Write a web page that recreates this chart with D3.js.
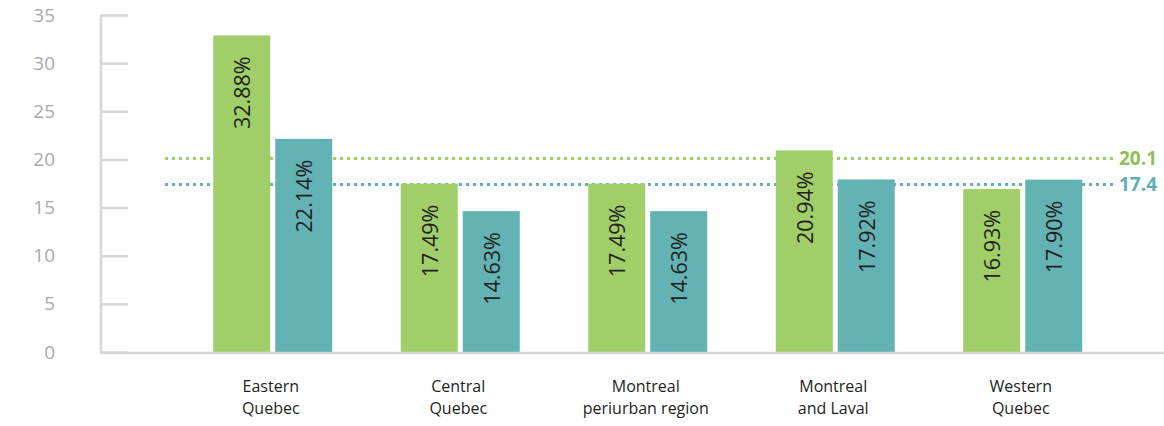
<!DOCTYPE html>
<html>
<head>
<meta charset="utf-8">
<script src="https://cdn.jsdelivr.net/npm/d3@7"></script>
<style>
  body { margin: 0; background: #fff; }
  svg { display: block; font-family: "Open Sans", "Noto Sans", sans-serif; }
</style>
</head>
<body>
<div id="chart-area"></div>
<script>
// regions on the x axis (two lines each)
const regions = [
  ["Eastern", "Quebec"],
  ["Central", "Quebec"],
  ["Montreal", "periurban region"],
  ["Montreal", "and Laval"],
  ["Western", "Quebec"]
]
const greenValues = [32.88, 17.49, 17.49, 20.94, 16.93]
const tealValues = [22.14, 14.63, 14.63, 17.92, 17.90]
const averages = [20.1, 17.4]
const yTicks = [0, 5, 10, 15, 20, 25, 30, 35]

const colors = ["#a0cf6a", "#63b3b5"]
const avgColors = ["#8dc05a", "#5eb0b1"]

const width = 1164, height = 426

let svg = d3.select("#chart-area").append("svg")
  .attr("width", width)
  .attr("height", height)

let y = d3.scaleLinear().domain([0, 35]).range([352, 15])

let x0 = d3.scaleBand()
  .domain(d3.range(regions.length))
  .range([179, 1116.5])

let x1 = d3.scaleBand()
  .domain([0, 1])
  .range([x0.bandwidth() / 2 - 59.5, x0.bandwidth() / 2 + 59.5])
  .paddingInner(0.08)

// y axis
let yAxis = d3.axisLeft(y)
  .tickValues(yTicks)
  .tickSize(-27)
  .tickPadding(46)
svg.append("g")
  .attr("transform", "translate(101,0)")
  .call(yAxis)
  .call(g => {
    g.select(".domain").remove()
    g.selectAll(".tick line").attr("stroke", "#d6d6d6").attr("stroke-width", 2.5)
    g.selectAll(".tick text")
      .attr("fill", "#a9a9ab")
      .attr("font-size", 19)
      .attr("font-family", "Open Sans, Noto Sans, sans-serif")
  })

svg.append("line")
  .attr("x1", 101).attr("x2", 101)
  .attr("y1", y(35)).attr("y2", y(0) + 1)
  .attr("stroke", "#d6d6d6").attr("stroke-width", 2.5)

// average dotted lines (behind bars)
averages.forEach((v, i) => {
  svg.append("line")
    .attr("x1", 165).attr("x2", 1115)
    .attr("y1", y(v)).attr("y2", y(v))
    .attr("stroke", colors[i])
    .attr("stroke-width", 3)
    .attr("stroke-dasharray", "3,4")
  svg.append("text")
    .attr("x", 1119)
    .attr("y", y(v))
    .attr("dy", "0.35em")
    .attr("fill", avgColors[i])
    .attr("font-size", 19)
    .attr("font-weight", "bold")
    .text(v)
})

// bars
let groups = svg.selectAll("g.region")
  .data(regions.map((r, i) => [greenValues[i], tealValues[i]]))
  .enter()
  .append("g")
    .attr("class", "region")
    .attr("transform", (d, i) => `translate(${x0(i)},0)`)

groups.selectAll("rect")
  .data(d => d)
  .enter()
  .append("rect")
    .attr("x", (d, i) => x1(i))
    .attr("width", x1.bandwidth())
    .attr("y", d => y(d))
    .attr("height", d => y(0) - y(d))
    .attr("fill", (d, i) => colors[i])

groups.selectAll("text.val")
  .data(d => d)
  .enter()
  .append("text")
    .attr("class", "val")
    .attr("transform", (d, i) => `translate(${x1(i) + x1.bandwidth() / 2 + 1},${y(d) + 21}) rotate(-90)`)
    .attr("text-anchor", "end")
    .attr("dy", "0.35em")
    .attr("font-size", 21.5)
    .attr("fill", "#231f20")
    .text(d => d.toFixed(2) + "%")

// baseline
svg.append("line")
  .attr("x1", 100).attr("x2", width)
  .attr("y1", y(0) + 1).attr("y2", y(0) + 1)
  .attr("stroke", "#d6d6d6").attr("stroke-width", 2.5)

// category labels
let labels = svg.selectAll("text.cat")
  .data(regions)
  .enter()
  .append("text")
    .attr("class", "cat")
    .attr("text-anchor", "middle")
    .attr("font-size", 16)
    .attr("fill", "#231f20")
    .attr("transform", (d, i) => `translate(${x0(i) + x0.bandwidth() / 2 - 2},392)`)

labels.selectAll("tspan")
  .data(d => d)
  .enter()
  .append("tspan")
    .attr("x", 0)
    .attr("y", (d, i) => i * 22)
    .text(d => d)
</script>
</body>
</html>
